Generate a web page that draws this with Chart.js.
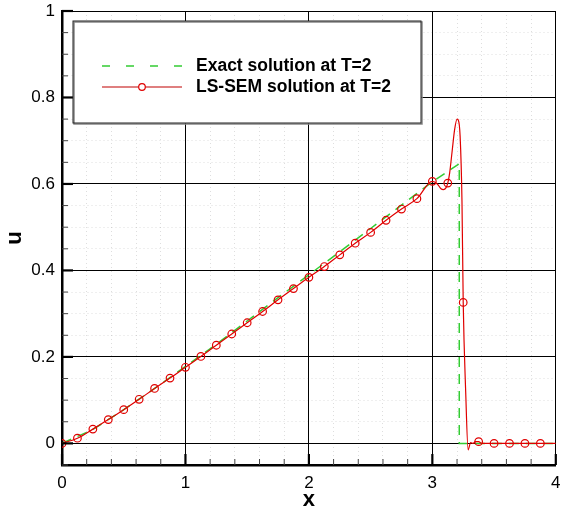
<!DOCTYPE html>
<html>
<head>
<meta charset="utf-8">
<script src="https://cdn.jsdelivr.net/npm/chart.js@4"></script>
<style>
  html, body { margin: 0; padding: 0; background: #fff; }
  #wrap { width: 561px; height: 508px; }
</style>
</head>
<body>
<div id="wrap"><canvas id="solutionChart"></canvas></div>
<script>
// exact solution at T=2 (ramp, shock near x=3.22)
var exactX = [0, 0.25, 0.5, 0.75, 1.0, 1.25, 1.5, 1.75, 2.0, 2.25, 2.5, 2.75, 3.0, 3.218, 3.218, 4.0];
var exactU = [0, 0.032, 0.078, 0.127, 0.178, 0.229, 0.283, 0.337, 0.39, 0.443, 0.497, 0.551, 0.605, 0.647, 0, 0];

// LS-SEM nodal values (markers)
var markerX = [0, 0.125, 0.25, 0.375, 0.5, 0.625, 0.75, 0.875, 1.0, 1.125, 1.25, 1.375, 1.5, 1.625, 1.75, 1.875,
               2.0, 2.125, 2.25, 2.375, 2.5, 2.625, 2.75, 2.875, 3.0, 3.125, 3.25, 3.375, 3.5, 3.625, 3.75, 3.875];
var markerU = [0, 0.012, 0.033, 0.055, 0.078, 0.102, 0.127, 0.151, 0.176, 0.201, 0.227, 0.253, 0.279, 0.305, 0.332, 0.358,
               0.384, 0.409, 0.436, 0.463, 0.488, 0.516, 0.542, 0.566, 0.606, 0.602, 0.326, 0.004, 0, 0, 0, 0];

// LS-SEM solution curve (finer sampling near the shock)
var curveX = [0, 0.125, 0.25, 0.375, 0.5, 0.625, 0.75, 0.875, 1.0, 1.125, 1.25, 1.375, 1.5, 1.625, 1.75, 1.875,
              2.0, 2.125, 2.25, 2.375, 2.5, 2.625, 2.75, 2.875, 3.0, 3.04, 3.07, 3.09, 3.11, 3.125, 3.14, 3.16,
              3.18, 3.2, 3.21, 3.225, 3.24, 3.25, 3.27, 3.29, 3.31, 3.33, 3.35, 3.375, 3.4, 3.5, 3.75, 4.0];
var curveU = [0, 0.012, 0.033, 0.055, 0.078, 0.102, 0.127, 0.151, 0.176, 0.201, 0.227, 0.253, 0.279, 0.305, 0.332, 0.358,
              0.384, 0.409, 0.436, 0.463, 0.488, 0.516, 0.542, 0.566, 0.606, 0.6, 0.589, 0.587, 0.591, 0.602, 0.625, 0.675,
              0.725, 0.75, 0.748, 0.71, 0.56, 0.326, 0.12, -0.015, 0.002, 0.0, 0.004, 0.004, 0, 0, 0, 0];

var xTickLabels = ['0', '1', '2', '3', '4'];
var yTickLabels = ['0', '0.2', '0.4', '0.6', '0.8', '1'];

var legendNames = ['Exact solution at T=2', 'LS-SEM solution at T=2'];

var FONT = "'Liberation Sans', Arial, Helvetica, sans-serif";
var GREEN = '#33cc33';
var RED = '#e00000';
var MINOR_GRID = 'rgba(0,0,0,0.13)';

function toPoints(xs, ys) {
    var pts = [];
    for (var i = 0; i < xs.length; i++) {
        pts.push({x: xs[i], y: ys[i]});
    }
    return pts;
}

function isMajor(v, step) {
    var r = v / step;
    return Math.abs(r - Math.round(r)) < 1e-6;
}

// inward tick marks and the boxed legend
var tecplotLook = {
    id: 'tecplotLook',
    afterDraw: function(chart) {
        var ctx = chart.ctx;
        var area = chart.chartArea;
        var xs = chart.scales.x;
        var ys = chart.scales.y;
        ctx.save();

        // ticks
        xs.ticks.forEach(function(t) {
            var px = xs.getPixelForValue(t.value);
            var major = isMajor(t.value, 1);
            ctx.beginPath();
            ctx.lineWidth = major ? 2.2 : 1;
            ctx.strokeStyle = major ? '#000' : '#444';
            ctx.moveTo(px, area.bottom);
            ctx.lineTo(px, area.bottom - (major ? 11 : 6));
            ctx.stroke();
        });
        ys.ticks.forEach(function(t) {
            var py = ys.getPixelForValue(t.value);
            var major = isMajor(t.value, 0.2);
            ctx.beginPath();
            ctx.lineWidth = major ? 2.2 : 1;
            ctx.strokeStyle = major ? '#000' : '#444';
            ctx.moveTo(area.left, py);
            ctx.lineTo(area.left + (major ? 11 : 6), py);
            ctx.stroke();
        });

        // legend box
        var bx = 73, by = 21, bw = 348, bh = 102;
        ctx.fillStyle = '#fff';
        ctx.fillRect(bx, by, bw, bh);
        ctx.lineWidth = 1.5;
        ctx.strokeStyle = '#888';
        ctx.strokeRect(bx + 1, by + 1, bw, bh);
        ctx.lineWidth = 1;
        ctx.strokeStyle = '#222';
        ctx.strokeRect(bx, by, bw, bh);

        // entry 1: green dashed
        ctx.beginPath();
        ctx.lineWidth = 1.5;
        ctx.strokeStyle = GREEN;
        ctx.setLineDash([8, 16]);
        ctx.moveTo(102, 66);
        ctx.lineTo(182, 66);
        ctx.stroke();
        ctx.setLineDash([]);

        // entry 2: red line with circle
        ctx.beginPath();
        ctx.lineWidth = 1.2;
        ctx.strokeStyle = '#c00000';
        ctx.moveTo(102, 87);
        ctx.lineTo(182, 87);
        ctx.stroke();
        ctx.beginPath();
        ctx.lineWidth = 1.2;
        ctx.strokeStyle = RED;
        ctx.fillStyle = '#fff';
        ctx.arc(142, 87, 3.3, 0, Math.PI * 2);
        ctx.fill();
        ctx.stroke();

        ctx.fillStyle = '#000';
        ctx.font = 'bold 17.5px ' + FONT;
        ctx.textAlign = 'left';
        ctx.textBaseline = 'middle';
        ctx.fillText(legendNames[0], 196, 66);
        ctx.fillText(legendNames[1], 196, 87);

        ctx.restore();
    }
};

const ctx = document.getElementById('solutionChart');

new Chart(ctx, {
    type: 'scatter',
    data: {
        datasets: [{
            label: legendNames[0],
            data: toPoints(exactX, exactU),
            showLine: true,
            borderColor: GREEN,
            borderWidth: 1.5,
            borderDash: [10, 7],
            pointRadius: 0,
            order: 3
        }, {
            label: legendNames[1],
            data: toPoints(curveX, curveU),
            showLine: true,
            borderColor: RED,
            borderWidth: 1.2,
            cubicInterpolationMode: 'monotone',
            pointRadius: 0,
            order: 2
        }, {
            label: 'nodes',
            data: toPoints(markerX, markerU),
            showLine: false,
            pointRadius: 3.8,
            pointBorderWidth: 1.2,
            pointBorderColor: RED,
            pointBackgroundColor: 'rgba(0,0,0,0)',
            order: 1
        }]
    },
    options: {
        responsive: true,
        maintainAspectRatio: false,
        animation: false,
        layout: {
            padding: {left: 0, top: 11, right: 3, bottom: 0}
        },
        plugins: {
            legend: { display: false },
            tooltip: { enabled: false }
        },
        scales: {
            x: {
                type: 'linear',
                min: 0,
                max: 4,
                afterFit: function(scale) {
                    scale.height = 43;
                    scale.paddingLeft = 0;
                    scale.paddingRight = 0;
                },
                ticks: {
                    stepSize: 0.2,
                    autoSkip: false,
                    maxRotation: 0,
                    padding: 8,
                    color: '#000',
                    font: {family: FONT, size: 17},
                    callback: function(value) {
                        return isMajor(value, 1) ? xTickLabels[Math.round(value)] : '';
                    }
                },
                grid: {
                    drawTicks: false,
                    color: function(c) {
                        return c.tick && isMajor(c.tick.value, 1) ? '#000' : MINOR_GRID;
                    },
                    lineWidth: 1
                },
                border: {
                    display: true,
                    color: '#000',
                    width: 2.5,
                    dash: function(c) {
                        return c.tick && !isMajor(c.tick.value, 1) ? [1, 3] : [];
                    }
                },
                title: {
                    display: true,
                    text: 'x',
                    color: '#000',
                    font: {family: FONT, size: 22, weight: 'bold', lineHeight: 0.7},
                    padding: {top: 0, bottom: 0}
                }
            },
            y: {
                type: 'linear',
                min: -0.05,
                max: 1,
                afterFit: function(scale) {
                    scale.width = 62;
                    scale.paddingTop = 0;
                    scale.paddingBottom = 0;
                },
                ticks: {
                    stepSize: 0.05,
                    autoSkip: false,
                    padding: 7,
                    color: '#000',
                    font: {family: FONT, size: 17},
                    callback: function(value) {
                        if (value < -1e-6 || !isMajor(value, 0.2)) return '';
                        return yTickLabels[Math.round(value / 0.2)];
                    }
                },
                grid: {
                    drawTicks: false,
                    color: function(c) {
                        return c.tick && isMajor(c.tick.value, 0.2) ? '#000' : MINOR_GRID;
                    },
                    lineWidth: 1
                },
                border: {
                    display: true,
                    color: '#000',
                    width: 2.5,
                    dash: function(c) {
                        return c.tick && !isMajor(c.tick.value, 0.2) ? [1, 3] : [];
                    }
                },
                title: {
                    display: true,
                    text: 'u',
                    color: '#000',
                    font: {family: FONT, size: 22, weight: 'bold', lineHeight: 1},
                    padding: {top: 4, bottom: 0}
                }
            }
        }
    },
    plugins: [tecplotLook]
});
</script>
</body>
</html>
